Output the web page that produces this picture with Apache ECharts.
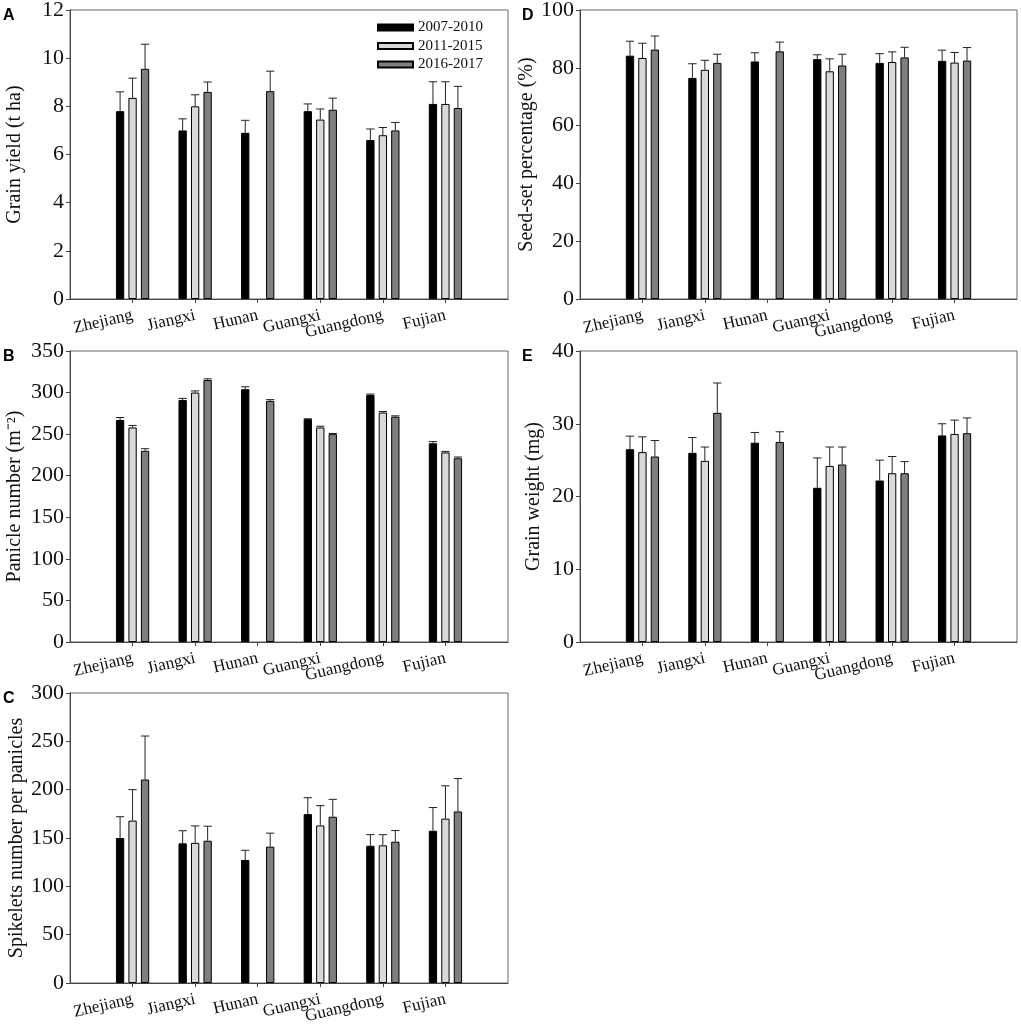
<!DOCTYPE html>
<html>
<head>
<meta charset="utf-8">
<script src="https://cdn.jsdelivr.net/npm/echarts@6/dist/echarts.min.js"></script>
<style>
html, body { margin: 0; padding: 0; background: #fff; }
#chart { width: 1021px; height: 1032px; }
</style>
</head>
<body>
<div id="chart"></div>
<script>
var provinces = ['Zhejiang', 'Jiangxi', 'Hunan', 'Guangxi', 'Guangdong', 'Fujian'];
var periods = ['2007-2010', '2011-2015', '2016-2017'];
var barColors = ['#000000', '#d9d9d9', '#7f7f7f'];

// A - grain yield, one row per period
var yieldMean = [
	[7.8, 7.0, 6.9, 7.8, 6.6, 8.1],
	[8.35, 8.0, null, 7.45, 6.8, 8.1],
	[9.56, 8.6, 8.63, 7.86, 7.0, 7.93]
];
var yieldSd = [
	[0.8, 0.48, 0.52, 0.3, 0.46, 0.92],
	[0.82, 0.48, null, 0.44, 0.32, 0.92],
	[1.02, 0.41, 0.83, 0.48, 0.33, 0.9]
];

// B - panicle number
var panicleMean = [
	[267, 291, 304, 268, 297, 239],
	[258, 300, null, 258, 276, 228],
	[230, 315, 290, 250, 271, 221]
];
var panicleSd = [
	[3, 2, 3, 0.5, 1.2, 2],
	[2.5, 2, null, 1.5, 1.2, 1.2],
	[2.5, 1.5, 1.5, 0.8, 1, 1.5]
];

// C - spikelets per panicle
var spikeletMean = [
	[150, 144.5, 127.3, 174.7, 142, 157.5],
	[168, 145, null, 163, 142.4, 170],
	[210.5, 147.2, 141, 172, 146.2, 177.5]
];
var spikeletSd = [
	[22, 13, 10, 17, 11.5, 24],
	[32, 17.5, null, 20.5, 11, 34],
	[45, 15, 14, 18, 11.5, 34]
];

// D - seed-set percentage
var seedSetMean = [
	[84.2, 76.5, 82.2, 83.0, 81.7, 82.4],
	[83.4, 79.3, null, 78.8, 82.0, 81.8],
	[86.3, 81.7, 85.7, 80.8, 83.6, 82.5]
];
var seedSetSd = [
	[5.0, 4.9, 3.0, 1.5, 3.2, 3.7],
	[5.1, 3.3, null, 4.3, 3.5, 3.5],
	[4.7, 3.0, 3.2, 3.9, 3.5, 4.5]
];

// E - grain weight
var weightMean = [
	[26.5, 26.0, 27.4, 21.2, 22.2, 28.4],
	[26.1, 24.9, null, 24.2, 23.2, 28.6],
	[25.5, 31.5, 27.5, 24.4, 23.2, 28.7]
];
var weightSd = [
	[1.8, 2.1, 1.4, 4.1, 2.8, 1.6],
	[2.1, 1.9, null, 2.6, 2.3, 1.9],
	[2.2, 4.1, 1.4, 2.4, 1.6, 2.1]
];

var BAR_W = 0.133;   // bar width as share of a category slot
var SERIF = '"Liberation Serif", "Times New Roman", serif';

var panels = [
	{letter: 'A', grid: {left: 70, top: 10, width: 438, height: 289}, max: 12, step: 2, gap: 45,
		name: 'Grain yield (t ha)', mean: yieldMean, sd: yieldSd},
	{letter: 'B', grid: {left: 70, top: 351, width: 438, height: 291}, max: 350, step: 50, gap: 45,
		name: 'Panicle number (m\u207B\u00B2)', mean: panicleMean, sd: panicleSd},
	{letter: 'C', grid: {left: 70, top: 693, width: 438, height: 290}, max: 300, step: 50, gap: 43,
		name: 'Spikelets number per panicles', mean: spikeletMean, sd: spikeletSd},
	{letter: 'D', grid: {left: 580, top: 10, width: 437, height: 289}, max: 100, step: 20, gap: 36,
		name: 'Seed-set percentage (%)', mean: seedSetMean, sd: seedSetSd},
	{letter: 'E', grid: {left: 580, top: 351, width: 437, height: 291}, max: 40, step: 10, gap: 36,
		name: 'Grain weight (mg)', mean: weightMean, sd: weightSd}
];

// category axis has an empty slot at each end, bars sit on ticks 1..6
var cats = [''].concat(provinces, ['']);

function padRow(row) {
	return ['-'].concat(row.map(function (v) { return v == null ? '-' : v; }), ['-']);
}

function errorRender(k) {
	return function (params, api) {
		var i = api.value(0), m = api.value(1), s = api.value(2);
		var band = api.size([1, 0])[0];
		var w = band * BAR_W;
		var x = api.coord([i, m])[0] + (k - 1) * 1.5 * w;
		var y0 = api.coord([i, m])[1];
		var y1 = api.coord([i, m + s])[1];
		var cap = w / 2;
		var st = {stroke: '#222', lineWidth: 1};
		return {
			type: 'group',
			children: [
				{type: 'line', shape: {x1: x, y1: y0, x2: x, y2: y1}, style: st},
				{type: 'line', shape: {x1: x - cap, y1: y1, x2: x + cap, y2: y1}, style: st}
			]
		};
	};
}

var grids = [], xAxes = [], yAxes = [], series = [], graphics = [];

panels.forEach(function (p, g) {
	grids.push({
		left: p.grid.left, top: p.grid.top, width: p.grid.width, height: p.grid.height,
		show: true, borderColor: '#666', borderWidth: 1, backgroundColor: 'transparent',
		outerBoundsMode: 'none'
	});
	xAxes.push({
		gridIndex: g,
		type: 'category',
		boundaryGap: false,
		data: cats,
		axisLine: {lineStyle: {color: '#444', width: 1}},
		axisTick: {
			length: 4,
			interval: function (idx) { return idx > 0 && idx < cats.length - 1; },
			lineStyle: {color: '#444'}
		},
		axisLabel: {
			interval: 0, rotate: 13, margin: 16,
			fontFamily: SERIF, fontSize: 17, color: '#111'
		},
		splitLine: {show: false}
	});
	yAxes.push({
		gridIndex: g,
		type: 'value',
		min: 0, max: p.max, interval: p.step,
		axisLine: {show: true, lineStyle: {color: '#444', width: 1}},
		axisTick: {show: true, length: 4, lineStyle: {color: '#444'}},
		axisLabel: {fontFamily: SERIF, fontSize: 22, color: '#111', margin: 6},
		splitLine: {show: false},
		name: p.name,
		nameLocation: 'middle',
		nameRotate: 90,
		nameGap: p.gap,
		nameTextStyle: {fontFamily: SERIF, fontSize: 20, color: '#111'}
	});
	periods.forEach(function (per, k) {
		series.push({
			name: per,
			type: 'bar',
			xAxisIndex: g, yAxisIndex: g,
			data: padRow(p.mean[k]),
			barWidth: (BAR_W * 100) + '%',
			barGap: '50%',
			itemStyle: {color: barColors[k], borderColor: '#000', borderWidth: 1},
			emphasis: {disabled: true},
			silent: true
		});
	});
	periods.forEach(function (per, k) {
		var pts = [];
		p.mean[k].forEach(function (v, i) {
			if (v != null) pts.push([i + 1, v, p.sd[k][i]]);
		});
		series.push({
			type: 'custom',
			xAxisIndex: g, yAxisIndex: g,
			data: pts,
			encode: {x: 0, y: 1},
			renderItem: errorRender(k),
			z: 5,
			silent: true
		});
	});
	graphics.push({
		type: 'text',
		left: p.grid.left - (g < 3 ? 67 : 58),
		top: p.grid.top - 2,
		style: {text: p.letter, font: 'bold 16px "Liberation Sans", Arial, sans-serif', fill: '#000'}
	});
});

var myChart = echarts.init(document.getElementById('chart'), null, {renderer: 'canvas'});
myChart.setOption({
	animation: false,
	backgroundColor: '#fff',
	grid: grids,
	xAxis: xAxes,
	yAxis: yAxes,
	legend: {
		data: periods,
		orient: 'vertical',
		left: 377, top: 20,
		padding: 0,
		icon: 'rect',
		itemWidth: 35, itemHeight: 6, itemGap: 3.5,
		selectedMode: false,
		textStyle: {fontFamily: SERIF, fontSize: 15, color: '#111'}
	},
	graphic: graphics,
	series: series
});
</script>
</body>
</html>
